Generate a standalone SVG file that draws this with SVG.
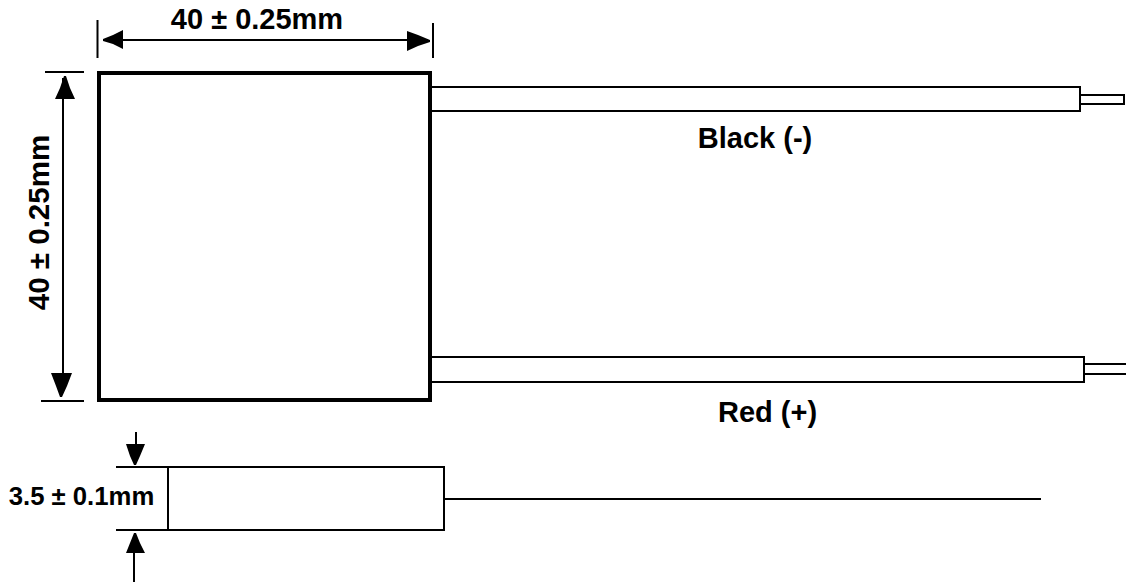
<svg xmlns="http://www.w3.org/2000/svg" width="1126" height="586" viewBox="0 0 1126 586">
<style>
text{font-family:"Liberation Sans",Arial,sans-serif;font-weight:bold;fill:#000}
.l{stroke:#000;stroke-width:2;fill:none}
.h{fill:#000;stroke:none}
</style>
<rect width="1126" height="586" fill="#fff"/>
<g id="module-top"><rect x="99" y="73" width="331" height="327" fill="#fff" stroke="#000" stroke-width="4"/></g>
<g id="wire-black">
<path class="l" d="M432 87H1080M432 111H1080M1080 86V112M1080 95H1124V104H1080"/>
<text x="755" y="148" font-size="29" text-anchor="middle">Black (-)</text>
</g>
<g id="wire-red">
<path class="l" d="M432 357H1084M432 382H1084M1084 356V383M1084 364H1126M1084 374H1126"/>
<text x="767.500" y="422" font-size="29" text-anchor="middle">Red (+)</text>
</g>
<g id="module-side">
<rect x="168" y="467" width="276" height="63" fill="#fff" class="l"/>
<path class="l" d="M444 499H1041"/>
</g>
<g id="connectors">
<path class="l" d="M97.500 20V58M433 23V58M103 40H428"/>
<path class="h" d="M103 39L113 35L123 30V49L113 44L103 41ZM407 31L418 35L430 40V42L418 46L407 51Z"/>
<path class="l" d="M45 72H84M41 401H84M63 78V375"/>
<path class="h" d="M64 76H66L70 88L75 99H55L60 88ZM51 373H72L67 386L62 397H60L56 386Z"/>
<path class="l" d="M116 467H168M116 530H168M136 432V448M134 553V582"/>
<path class="h" d="M126 444H145L140 456L136 465H134L130 456ZM134 533H136L140 543L145 553H126L130 543Z"/>
</g>
<g id="dimensions">
<text x="257" y="28.500" font-size="29" text-anchor="middle">40 ± 0.25mm</text>
<text transform="translate(49 222.500) rotate(-90)" font-size="29.500" text-anchor="middle">40 ± 0.25mm</text>
<text x="81.500" y="505" font-size="25.700" text-anchor="middle">3.5 ± 0.1mm</text>
</g>
</svg>
